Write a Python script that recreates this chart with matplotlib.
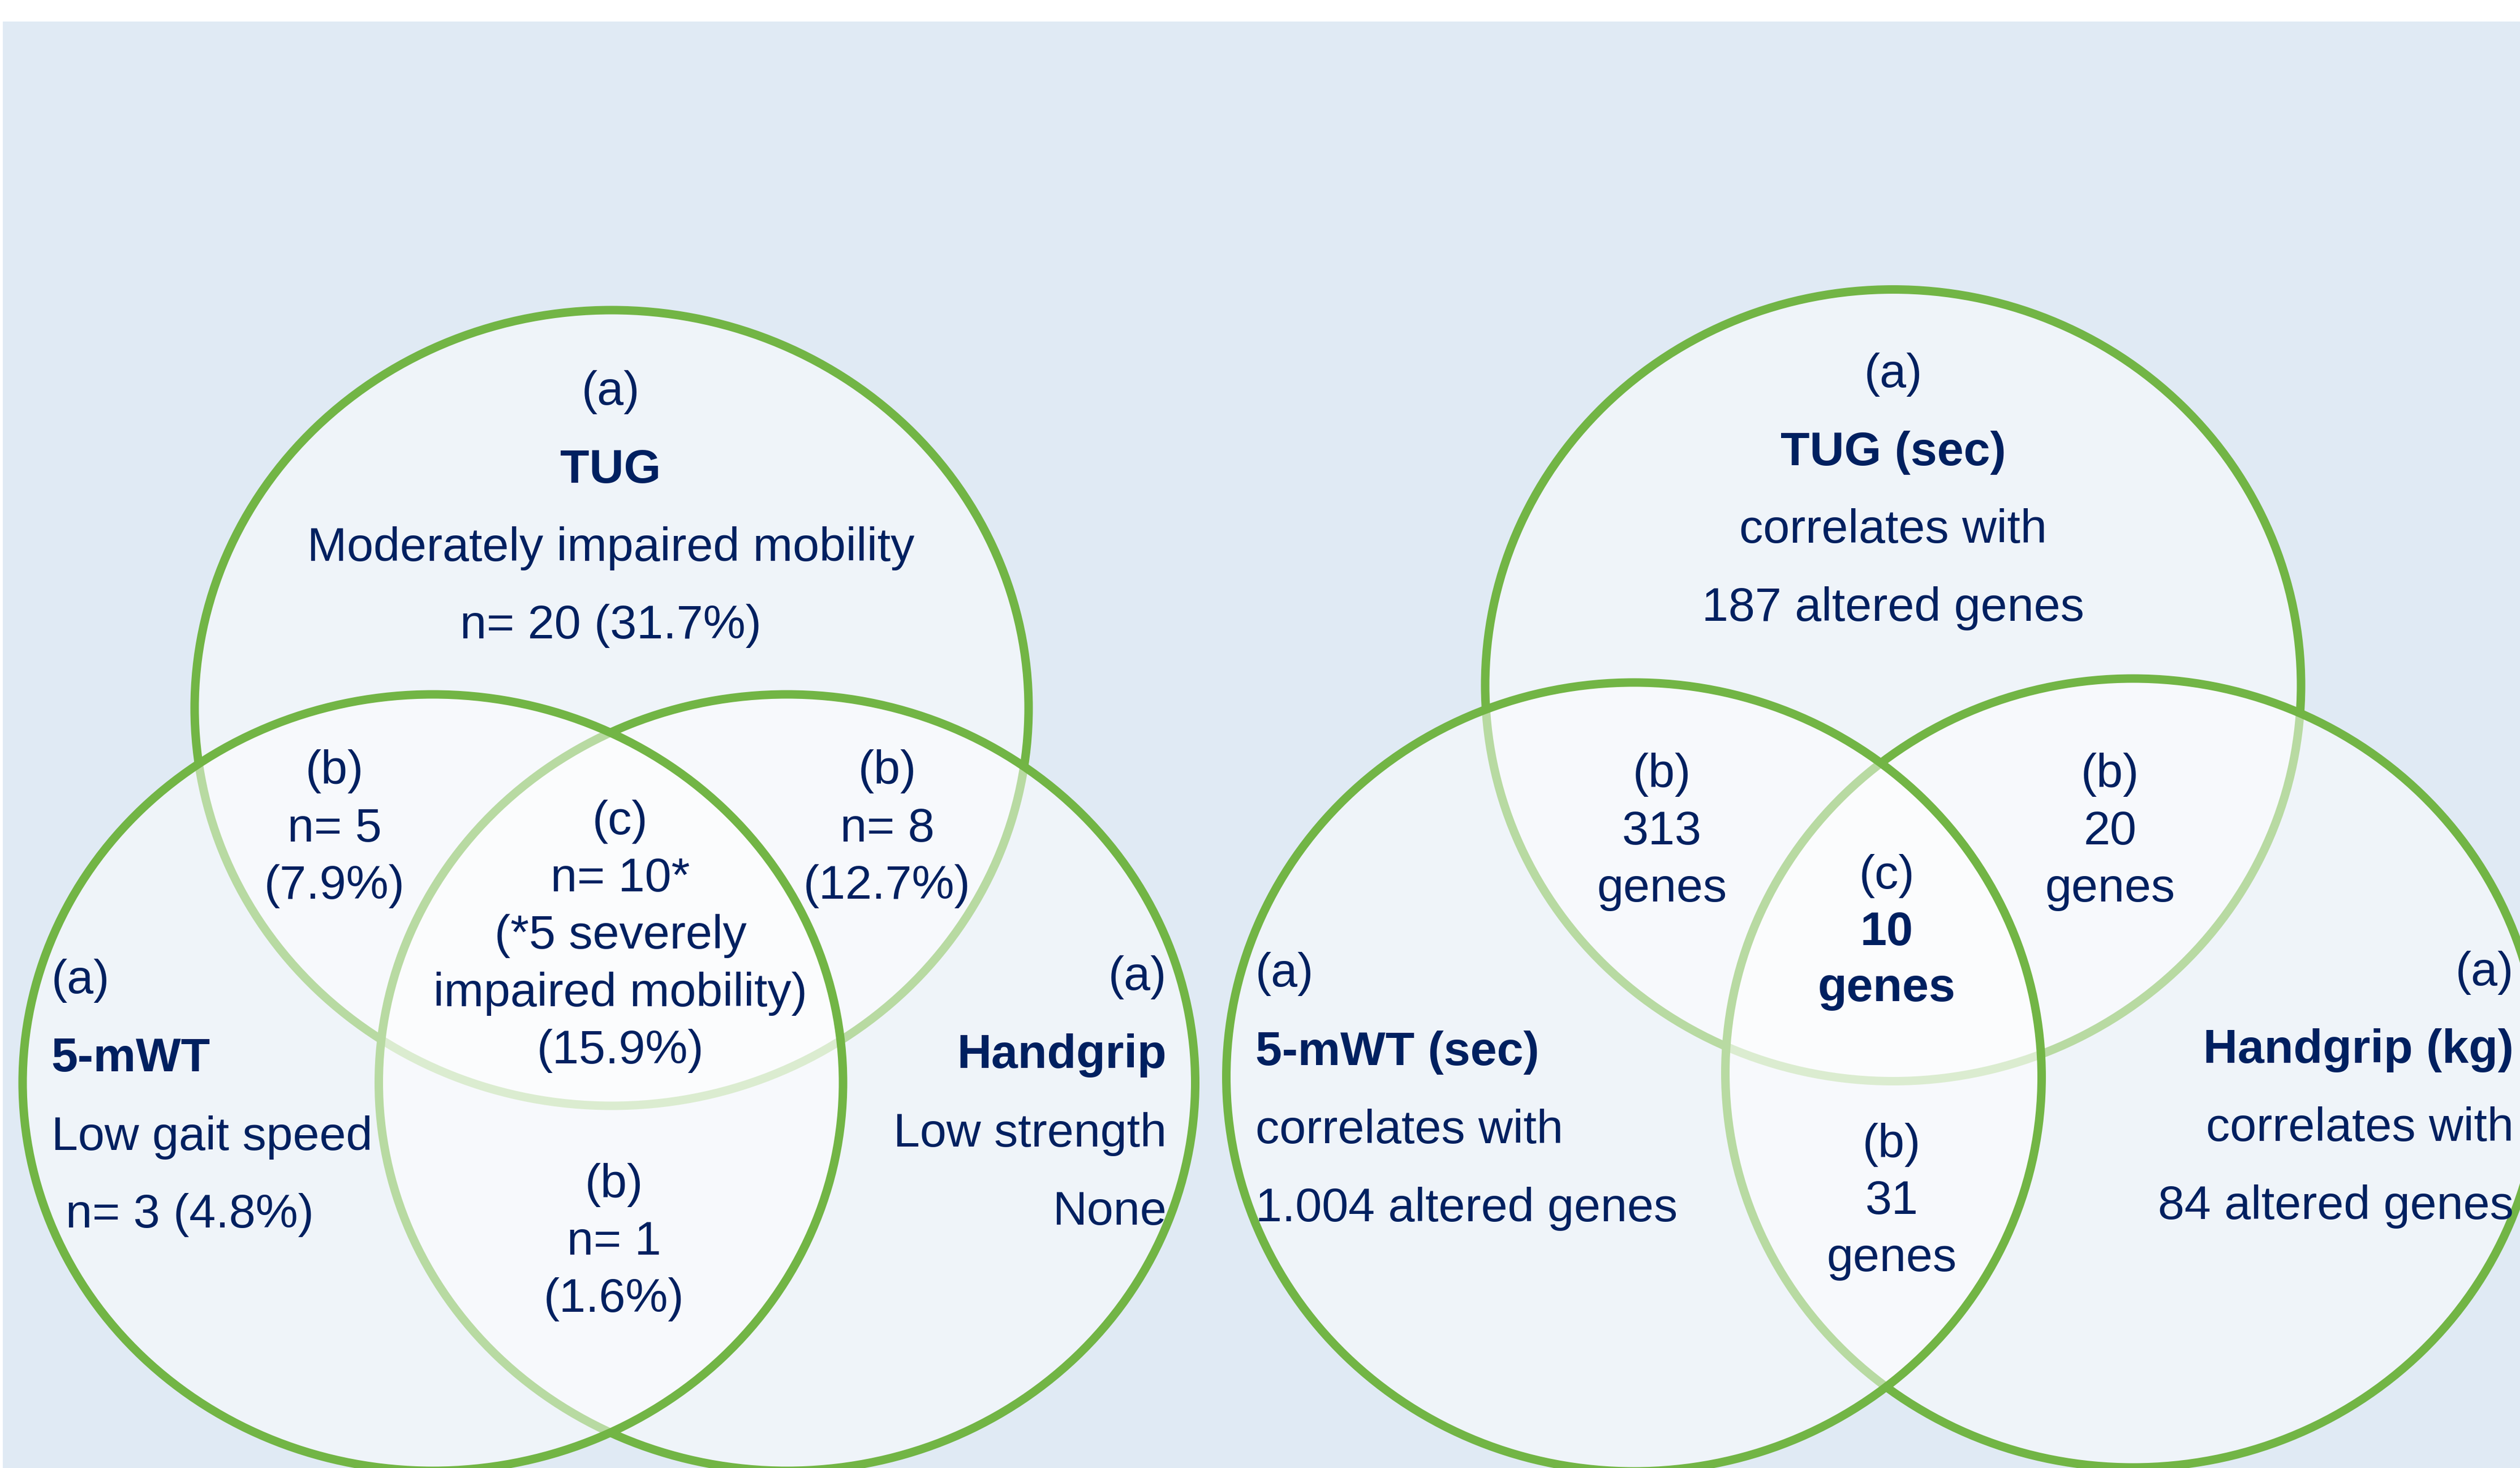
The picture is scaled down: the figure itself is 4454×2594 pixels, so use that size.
import matplotlib
matplotlib.use("Agg")
import matplotlib.pyplot as plt
from matplotlib.patches import Ellipse, Rectangle

# --- data ---
left_sets = ["TUG", "5-mWT", "Handgrip"]
left_desc = ["Moderately impaired mobility", "Low gait speed", "Low strength"]
left_only = ["n= 20 (31.7%)", "n= 3 (4.8%)", "None"]
left_pair_n = [5, 8, 1]              # TUG&5-mWT, TUG&Handgrip, 5-mWT&Handgrip
left_pair_pct = ["7.9%", "12.7%", "1.6%"]
left_all_n = 10
left_all_severe = 5
left_all_pct = "15.9%"

right_sets = ["TUG (sec)", "5-mWT (sec)", "Handgrip (kg)"]
right_only_genes = ["187", "1.004", "84"]
right_pair_genes = [313, 20, 31]
right_all_genes = 10

navy = "#002060"
green = "#72B545"
panel = "#E0EAF4"
fs = 30.4

W, H = 4454, 2594
fig = plt.figure(figsize=(W / 200, H / 200), dpi=200)
ax = fig.add_axes([0, 0, 1, 1])
ax.set_xlim(0, W)
ax.set_ylim(H, 0)
ax.axis("off")
fig.patch.set_facecolor("white")

ax.add_patch(Rectangle((5, 38), W, H, facecolor=panel, edgecolor="none", zorder=0))


def circle(cx, cy, w, h, z):
    ax.add_patch(Ellipse((cx, cy), w, h, facecolor=(1, 1, 1, 0.5),
                         edgecolor=green, linewidth=5.4, zorder=z))


# left diagram: top, bottom-right, bottom-left
circle(1081, 1251, 1474, 1406, 1)
circle(1391, 1913, 1443, 1372, 2)
circle(765, 1913, 1450, 1372, 3)
# right diagram
circle(3346, 1211, 1442, 1399, 1)
circle(3770, 1896, 1441, 1394, 2)
circle(2888, 1903, 1441, 1394, 3)

S = 2.8406


def txt(x, y, s, bold=False, ha="center"):
    ax.text(x * S, (y + 2) * S, s, ha=ha, va="center", fontsize=fs, color=navy,
            family="Liberation Sans", fontweight="bold" if bold else "normal",
            zorder=10)


def block(x, y, lines, step, bold_idx=(), ha="center"):
    for i, s in enumerate(lines):
        txt(x, y + i * step, s, bold=i in bold_idx, ha=ha)


# left Venn texts
block(380, 242, ["(a)", left_sets[0], left_desc[0], left_only[0]], 48.5, bold_idx=(1,))
block(32, 608, ["(a)", left_sets[1], left_desc[1]], 48.8, bold_idx=(1,), ha="left")
txt(41, 754, left_only[1], ha="left")
block(726, 606, ["(a)", left_sets[2], left_desc[2], left_only[2]], 48.7, bold_idx=(1,), ha="right")
pair_xy = [(208, 478), (552, 478), (382, 735)]
for (x, y), n, p in zip(pair_xy, left_pair_n, left_pair_pct):
    block(x, y, ["(b)", f"n= {n}", f"({p})"], 35.7)
block(386, 509, ["(c)", f"n= {left_all_n}*", f"(*{left_all_severe} severely",
                 "impaired mobility)", f"({left_all_pct})"], 35.7)

# right Venn texts
block(1178, 231, ["(a)", right_sets[0], "correlates with",
                  f"{right_only_genes[0]} altered genes"], 48.5, bold_idx=(1,))
block(781, 604, ["(a)", right_sets[1], "correlates with",
                 f"{right_only_genes[1]} altered genes"], 48.7, bold_idx=(1,), ha="left")
block(1564, 603, ["(a)", right_sets[2], "correlates with",
                  f"{right_only_genes[2]} altered genes"], 48.5, bold_idx=(1,), ha="right")
rpair_xy = [(1034, 480), (1313, 480), (1177, 710)]
for (x, y), g in zip(rpair_xy, right_pair_genes):
    block(x, y, ["(b)", str(g), "genes"], 35.5)
txt(1174, 543, "(c)")
txt(1174, 578, str(right_all_genes), bold=True)
txt(1174, 613, "genes", bold=True)

fig.savefig("out.png", dpi=200)
